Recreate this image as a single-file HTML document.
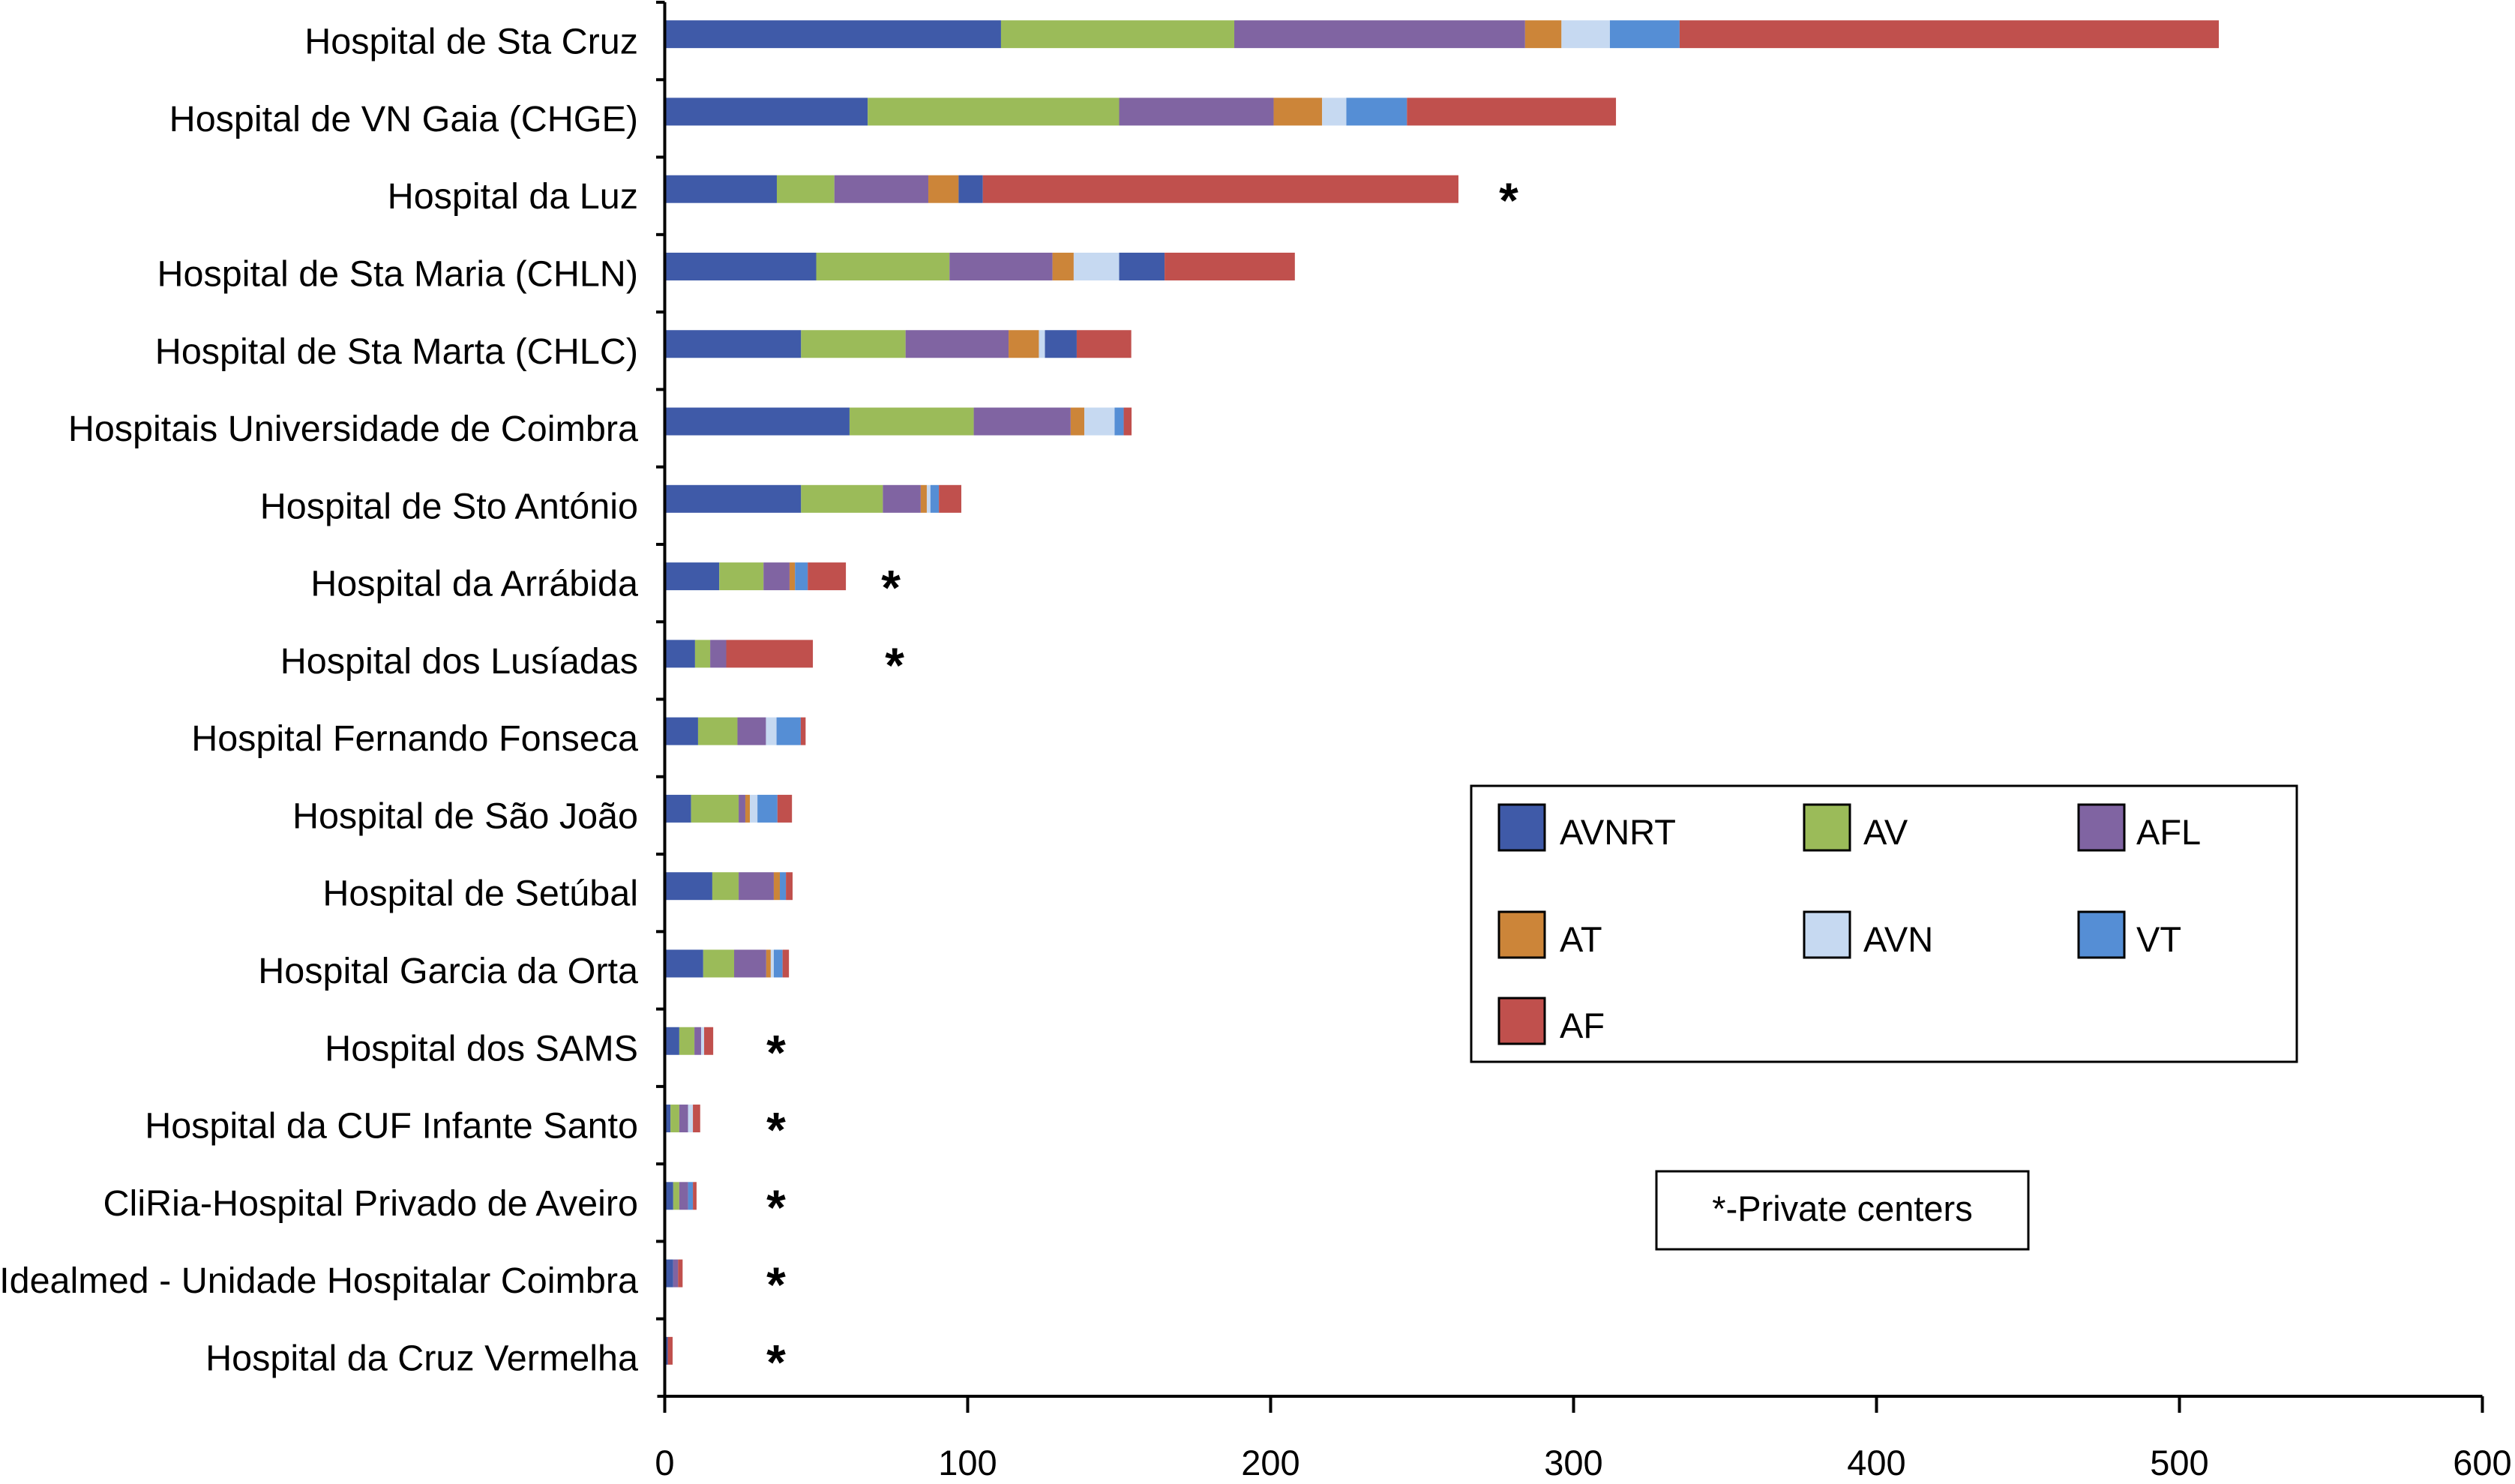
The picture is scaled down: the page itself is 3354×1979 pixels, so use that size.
<!DOCTYPE html>
<html><head><meta charset="utf-8"><style>
html,body{margin:0;padding:0;background:#fff;}
svg{display:block;font-family:"Liberation Sans",Arial,sans-serif;}
</style></head><body>
<svg id="chart" width="3354" height="1979" viewBox="0 0 3354 1979" xmlns="http://www.w3.org/2000/svg">
<g id="bars"></g>
<g id="axes"></g>
<g>
  <rect x="1962" y="1048" width="1101" height="368" fill="#fff" stroke="#000" stroke-width="3"/>
  <g id="legend-items"></g>
</g>
<g>
  <rect x="2209" y="1562" width="496" height="104" fill="#fff" stroke="#000" stroke-width="3"/>
  <text x="2457" y="1628" font-size="47" text-anchor="middle">*-Private centers</text>
</g>
</svg>
<script>
const categories = ["Hospital de Sta Cruz","Hospital de VN Gaia (CHGE)","Hospital da Luz","Hospital de Sta Maria (CHLN)","Hospital de Sta Marta (CHLC)","Hospitais Universidade de Coimbra","Hospital de Sto António","Hospital da Arrábida","Hospital dos Lusíadas","Hospital Fernando Fonseca","Hospital de São João","Hospital de Setúbal","Hospital Garcia da Orta","Hospital dos SAMS","Hospital da CUF Infante Santo","CliRia-Hospital Privado de Aveiro","Idealmed - Unidade Hospitalar Coimbra","Hospital da Cruz Vermelha"];
const privateCenter = [false,false,true,false,false,false,false,true,true,false,false,false,false,true,true,true,true,true];
const seriesNames = ["AVNRT","AV","AFL","AT","AVN","VT","Other","AF"];
const AVNRT = [111,67,37,50,45,61,45,18,10,11,8.7,15.7,12.7,4.8,1.9,2.8,2.8,1];
const AV    = [77,83,19,44,34.5,41,27,14.6,5,13,15.7,8.7,10.2,5,2.9,2,0,0];
const AFL   = [96,51,31,34,34,32,12.5,8.6,5.3,9.4,2.2,11.6,10.6,2.2,2.9,2.9,1.6,0];
const AT    = [12,16,10,7,10,4.5,2,1.8,0,0,1.5,2,1.5,0,0,0,0,0];
const AVN   = [16,8,0,15,2,10,1.2,0,0,3.5,2.5,0,1,1,1.6,0,0,0];
const VT    = [23,20,0,0,0,3,2.8,4.2,0,8,6.6,2,2.9,0,0,1.6,0,0];
const Other = [0,0,8,15,10.5,0,0,0,0,0,0,0,0,0,0,0,0,0];
const AF    = [178,69,157,43,18,2.6,7.4,12.6,28.6,1.6,4.8,2.2,2.1,3,2.4,1.2,1.5,1.6];
const xTicks = [0,100,200,300,400,500,600];
const seriesData = [AVNRT,AV,AFL,AT,AVN,VT,Other,AF];
const colors = ["#3F5AA8","#9BBB59","#8064A2","#CC8539","#C6D9F1","#558ED5","#3F5AA8","#C0504D"];
const legendSeries = [0,1,2,3,4,5,7];

const NS="http://www.w3.org/2000/svg";
const X0=886.5, X1=3310.5, XMAX=600, TOP=3, BOTTOM=1862;
const band=(BOTTOM-TOP)/categories.length;
const x=v=>X0+(v/XMAX)*(X1-X0);
const yC=i=>TOP+band*(i+0.5);
function mk(tag,attrs,parent){const e=document.createElementNS(NS,tag);for(const k in attrs)e.setAttribute(k,attrs[k]);parent.appendChild(e);return e;}
const bars=document.getElementById('bars'), axes=document.getElementById('axes');
const BH=37, BOFF=-9;
categories.forEach((c,i)=>{
  let acc=0;
  seriesData.forEach((s,j)=>{
    const v=s[i]; if(!v) return;
    const r=mk('rect',{x:x(acc),y:yC(i)+BOFF-BH/2,width:x(acc+v)-x(acc),height:BH,fill:colors[j]},bars);
    
    
    acc+=v;
  });
  const t=mk('text',{x:851,y:yC(i)+17,'font-size':48.5,'text-anchor':'end'},axes);
  t.textContent=c;
  
  
  if(privateCenter[i]){
    let starX;
    if(i>=13) starX=1035;
    else if(i===2) starX=x(acc)+67;
    else if(i===7) starX=x(acc)+60;
    else starX=x(acc)+109;
    const st=mk('text',{x:starX,y:yC(i)+BOFF+38,'font-size':66,'text-anchor':'middle','font-weight':'bold'},axes);
    st.textContent='*';
    
    
  }
  const tk=mk('line',{x1:875,x2:X0,y1:TOP+band*i,y2:TOP+band*i,stroke:'#000','stroke-width':4},axes);
  
  
});
const ya=mk('line',{x1:X0,x2:X0,y1:TOP,y2:BOTTOM,stroke:'#000','stroke-width':4},axes);


const xa=mk('line',{x1:X0-10,x2:X1,y1:BOTTOM,y2:BOTTOM,stroke:'#000','stroke-width':4},axes);


xTicks.forEach(v=>{
  const l=mk('line',{x1:x(v),x2:x(v),y1:BOTTOM,y2:BOTTOM+22,stroke:'#000','stroke-width':4},axes);
  
  
  const t=mk('text',{x:x(v),y:1967,'font-size':47,'text-anchor':'middle'},axes);
  t.textContent=v;
  
  
});
const li=document.getElementById('legend-items');
const lx=[1999,2406,2772], ly=[1073,1216,1331], tx=[2080,2485,2849];
legendSeries.forEach((s,k)=>{
  const col=k%3,row=Math.floor(k/3);
  const r=mk('rect',{x:lx[col],y:ly[row],width:61,height:61,fill:colors[s],stroke:'#000','stroke-width':3},li);
  
  
  const t=mk('text',{x:tx[col],y:ly[row]+53,'font-size':47},li);
  t.textContent=seriesNames[s];
  
  
});
</script>
</body></html>
